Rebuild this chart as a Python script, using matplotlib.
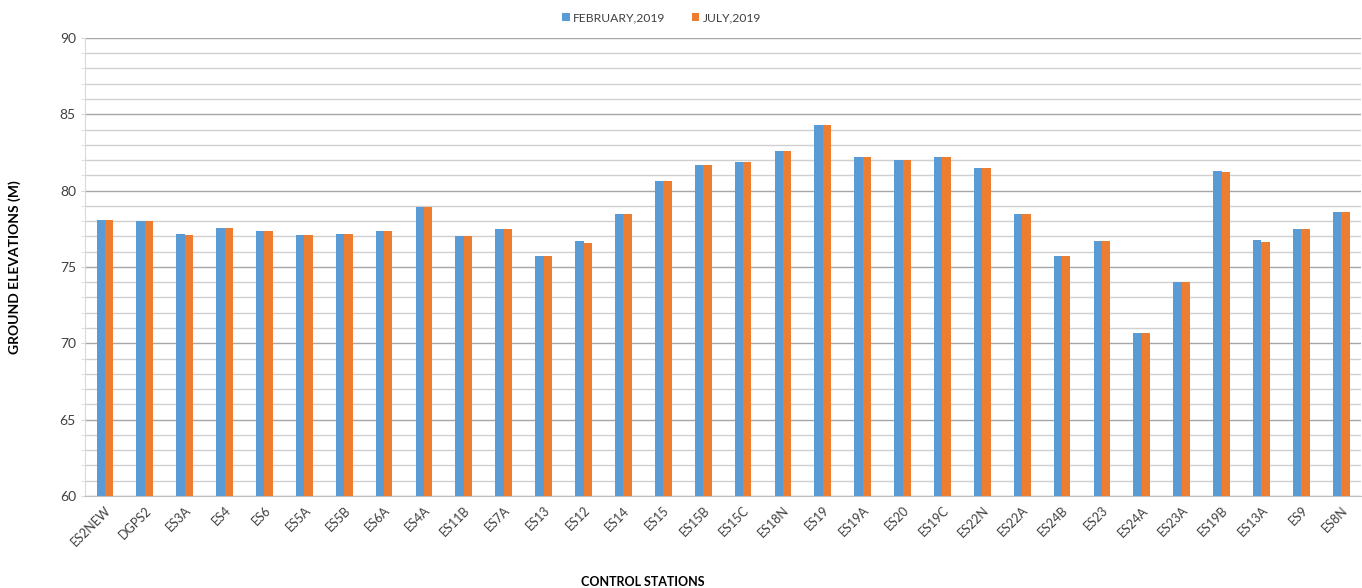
import numpy as np
import matplotlib.pyplot as plt
from matplotlib.ticker import MultipleLocator

stations = ["ES2NEW", "DGPS2", "ES3A", "ES4", "ES6", "ES5A", "ES5B", "ES6A", "ES4A",
            "ES11B", "ES7A", "ES13", "ES12", "ES14", "ES15", "ES15B", "ES15C", "ES18N",
            "ES19", "ES19A", "ES20", "ES19C", "ES22N", "ES22A", "ES24B", "ES23", "ES24A",
            "ES23A", "ES19B", "ES13A", "ES9", "ES8N"]
feb_2019 = [78.1, 78.0, 77.15, 77.55, 77.35, 77.1, 77.15, 77.35, 78.9,
            77.0, 77.5, 75.7, 76.7, 78.45, 80.6, 81.7, 81.9, 82.6,
            84.3, 82.2, 82.0, 82.2, 81.5, 78.5, 75.7, 76.7, 70.65,
            74.0, 81.3, 76.75, 77.5, 78.6]
jul_2019 = [78.1, 78.0, 77.1, 77.55, 77.35, 77.1, 77.15, 77.35, 78.9,
            77.0, 77.5, 75.7, 76.6, 78.45, 80.6, 81.7, 81.9, 82.6,
            84.3, 82.2, 82.0, 82.2, 81.5, 78.5, 75.7, 76.7, 70.65,
            74.0, 81.2, 76.65, 77.5, 78.6]

plt.rcParams['font.family'] = ['Lato', 'DejaVu Sans']

fig = plt.figure(figsize=(13.62, 5.88), dpi=100)
ax = fig.add_axes([0.0624, 0.1565, 0.937, 0.779])

x = np.arange(len(stations))
w = 0.21
ax.bar(x - w / 2, feb_2019, width=w, color='#5B9BD5', label='FEBRUARY,2019', zorder=3)
ax.bar(x + w / 2, jul_2019, width=w, color='#ED7D31', label='JULY,2019', zorder=3)

ax.set_ylim(60, 90)
ax.set_xlim(-0.5, len(stations) - 0.5)
ax.yaxis.set_major_locator(MultipleLocator(5))
ax.yaxis.set_minor_locator(MultipleLocator(1))
ax.grid(which='major', axis='y', color='#a6a6a6', linewidth=1.0, zorder=0)
ax.grid(which='minor', axis='y', color='#d0d0d0', linewidth=1.0, zorder=0)

for s in ['top', 'right']:
    ax.spines[s].set_visible(False)
ax.spines['left'].set_color('#d9d9d9')
ax.spines['bottom'].set_color('#bfbfbf')

ax.set_xticks(x)
ax.set_xticklabels(stations, rotation=45, ha='right', rotation_mode='anchor', fontsize=9, color='#404040')
ax.tick_params(axis='x', length=0, pad=6)
ax.tick_params(axis='y', which='both', length=3, color='#d9d9d9', labelsize=10, labelcolor='#404040')

ax.set_ylabel('GROUND ELEVATIONS (M)', fontsize=10, fontweight='bold')
ax.yaxis.set_label_coords(-0.05, 0.5)
ax.set_xlabel('CONTROL STATIONS', fontsize=9, fontweight='bold')
ax.xaxis.set_label_coords(0.437, -0.175)

ax.legend(loc='upper center', bbox_to_anchor=(0.452, 1.08), ncol=2, frameon=False,
          fontsize=8.7, handlelength=0.6, handleheight=0.6, columnspacing=2.2,
          handletextpad=0.3, labelcolor='#404040')

fig.savefig('out.png', dpi=100)
